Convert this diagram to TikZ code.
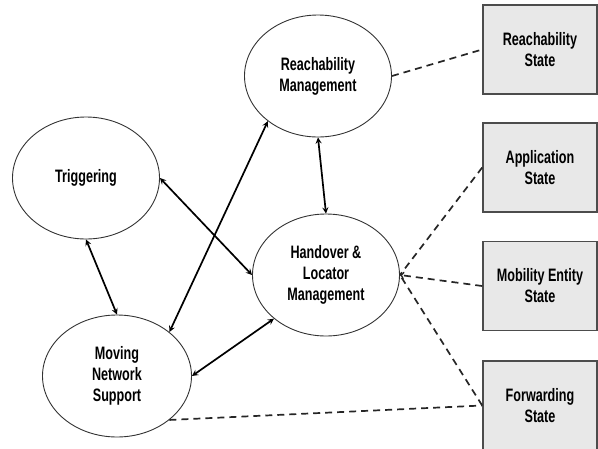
\documentclass[tikz,border=0pt]{standalone}
\usepackage{fontspec}
\setmainfont{Liberation Sans}[FakeStretch=0.7]
\usetikzlibrary{shapes.geometric}
\begin{document}
\begin{tikzpicture}[x=1pt, y=-1pt, >=stealth,
    proc/.style={ellipse, draw=black!80, line width=.9pt, minimum width=147pt, minimum height=122pt, inner sep=0pt, align=center, font=\fontsize{18}{21}\selectfont\bfseries},
    store/.style={rectangle, draw=black!70, line width=1.6pt, fill=black!9, minimum width=114pt, minimum height=89pt, inner sep=0pt, align=center, font=\fontsize{18}{21}\selectfont\bfseries},
    link/.style={<->, line width=1.7pt},
    dep/.style={line width=1.7pt, black!85, dash pattern=on 7pt off 5pt}]
    \useasboundingbox (0,0) rectangle (598,448);
    % functions
    \node[proc] (reach) at (318,76) {Reachability\\Management};
    \node[proc] (trig) at (86,178) {Triggering};
    \node[proc] (hand) at (326,275) {Handover \&\\Locator\\Management};
    \node[proc, minimum width=149pt] (moving) at (117,376) {Moving\\Network\\Support};
    % state
    \node[store] (rstate) at (540,49.5) {Reachability\\State};
    \node[store] (astate) at (540,167.5) {Application\\State};
    \node[store] (mstate) at (540,286) {Mobility Entity\\State};
    \node[store] (fstate) at (540,405.5) {Forwarding\\State};
    % interactions
    \draw[link] (reach.south)--(hand.north);
    \draw[link] (trig.east)--(hand.west);
    \draw[link] (trig.south)--(moving.north);
    \draw[link] (reach.222)--(moving.40);
    \draw[link] (moving.east)--(hand.220);
    \draw[dep] (reach.east)--(rstate.west);
    \draw[dep] (astate.west)--(hand.east);
    \draw[dep, -to] (mstate.west)--(hand.east);
    \draw[dep] (fstate.west)--(hand.east);
    \draw[dep] (moving.320)--(fstate.west);
\end{tikzpicture}
\end{document}
